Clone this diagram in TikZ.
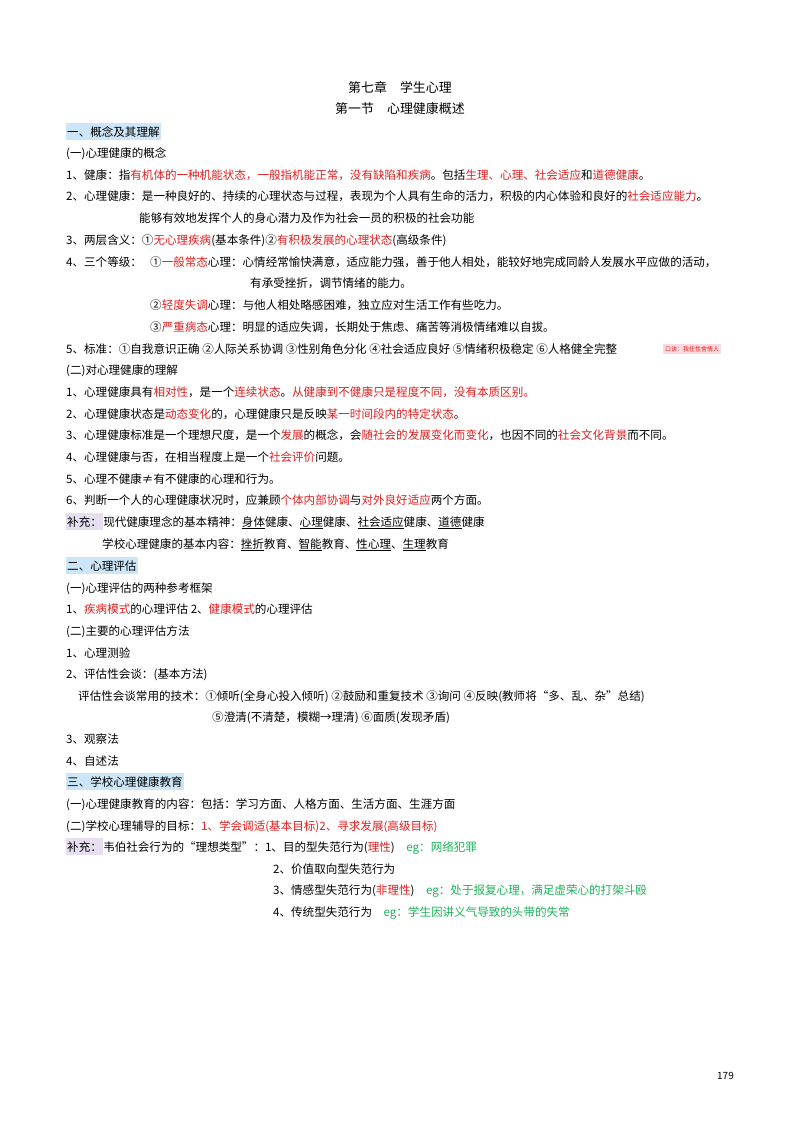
\documentclass[tikz,border=0pt]{standalone}
\usepackage{fontspec}
\setmainfont{Noto Sans CJK SC}
\definecolor{hired}{HTML}{E0201F}
\definecolor{higreen}{HTML}{1DB35A}
\definecolor{headblue}{HTML}{CDE6F7}
\definecolor{addpurple}{HTML}{E8DEF2}
\definecolor{tippink}{HTML}{FBD9DE}
\newcommand{\rd}[1]{\textcolor{hired}{#1}}
\newcommand{\gr}[1]{\textcolor{higreen}{#1}}
\newcommand{\ul}[1]{\underline{#1}}
\tikzset{
  txt/.style={anchor=base west,inner sep=0pt,font=\fontsize{11.6}{14}\selectfont},
  head/.style={txt,fill=headblue,inner xsep=1pt,inner ysep=3pt},
  addbox/.style={txt,fill=addpurple,inner xsep=1pt,inner ysep=3pt},
  title/.style={anchor=base,inner sep=0pt,font=\fontsize{13}{15}\selectfont}
}
\begin{document}
\begin{tikzpicture}[x=1bp,y=-1bp]
\useasboundingbox[fill=white](0,0) rectangle (800,1130);
\node[title] (t1) at (400,92) {第七章\quad 学生心理};
\node[title] (t2) at (400,113) {第一节\quad 心理健康概述};
\node[head] (h1) at (66,136) {一、概念及其理解};
\node[txt] (a0) at (66,157) {(一)心理健康的概念};
\node[txt] (a1) at (66,179) {1、健康：指\rd{有机体的一种机能状态，一般指机能正常，没有缺陷和疾病}。包括\rd{生理、心理、社会适应}和\rd{道德健康}。};
\node[txt] (a2) at (66,200) {2、心理健康：是一种良好的、持续的心理状态与过程，表现为个人具有生命的活力，积极的内心体验和良好的\rd{社会适应能力}。};
\node[txt] (a2b) at (139,222) {能够有效地发挥个人的身心潜力及作为社会一员的积极的社会功能};
\node[txt] (a3) at (66,244) {3、两层含义：①\rd{无心理疾病}(基本条件)②\rd{有积极发展的心理状态}(高级条件)};
\node[txt] (a4) at (66,266) {4、三个等级：};
\node[txt] (a4a) at (150,266) {①\rd{一般常态}心理：心情经常愉快满意，适应能力强，善于他人相处，能较好地完成同龄人发展水平应做的活动，};
\node[txt] (a4b) at (250,287) {有承受挫折，调节情绪的能力。};
\node[txt] (a4c) at (150,309) {②\rd{轻度失调}心理：与他人相处略感困难，独立应对生活工作有些吃力。};
\node[txt] (a4d) at (150,331) {③\rd{严重病态}心理：明显的适应失调，长期处于焦虑、痛苦等消极情绪难以自拔。};
\node[txt] (a5) at (66,353) {5、标准：①自我意识正确\ ②人际关系协调\ ③性别角色分化\ ④社会适应良好\ ⑤情绪积极稳定\ ⑥人格健全完整};
\node[anchor=west,fill=tippink,inner sep=2pt,font=\fontsize{6}{7}\selectfont] (tip) at (663,349) {\rd{口诀：我任性舍情人}};
\node[txt] (b0) at (66,374) {(二)对心理健康的理解};
\node[txt] (b1) at (66,396) {1、心理健康具有\rd{相对性}，是一个\rd{连续状态}。\rd{从健康到不健康只是程度不同，没有本质区别。}};
\node[txt] (b2) at (66,418) {2、心理健康状态是\rd{动态变化}的，心理健康只是反映\rd{某一时间段内的特定状态}。};
\node[txt] (b3) at (66,439) {3、心理健康标准是一个理想尺度，是一个\rd{发展}的概念，会\rd{随社会的发展变化而变化}，也因不同的\rd{社会文化背景}而不同。};
\node[txt] (b4) at (66,461) {4、心理健康与否，在相当程度上是一个\rd{社会评价}问题。};
\node[txt] (b5) at (66,483) {5、心理不健康≠有不健康的心理和行为。};
\node[txt] (b6) at (66,504) {6、判断一个人的心理健康状况时，应兼顾\rd{个体内部协调}与\rd{对外良好适应}两个方面。};
\node[addbox] (s1) at (66,526) {补充：};
\node[txt] (s1t) at (s1.base east) {现代健康理念的基本精神：\ul{身体}健康、\ul{心理}健康、\ul{社会适应}健康、\ul{道德}健康};
\node[txt] (s2) at (102,548) {学校心理健康的基本内容：\ul{挫折}教育、\ul{智能}教育、\ul{性心理}、\ul{生理}教育};
\node[head] (h2) at (66,570) {二、心理评估};
\node[txt] (c0) at (66,592) {(一)心理评估的两种参考框架};
\node[txt] (c1) at (66,613) {1、\rd{疾病模式}的心理评估\ 2、\rd{健康模式}的心理评估};
\node[txt] (d0) at (66,635) {(二)主要的心理评估方法};
\node[txt] (d1) at (66,657) {1、心理测验};
\node[txt] (d2) at (66,678) {2、评估性会谈：(基本方法)};
\node[txt] (d2a) at (78,700) {评估性会谈常用的技术：①倾听(全身心投入倾听)\ ②鼓励和重复技术\ ③询问\ ④反映(教师将“多、乱、杂”总结)};
\node[txt] (d2b) at (212,721) {⑤澄清(不清楚，模糊→理清)\ ⑥面质(发现矛盾)};
\node[txt] (d3) at (66,743) {3、观察法};
\node[txt] (d4) at (66,765) {4、自述法};
\node[head] (h3) at (66,786) {三、学校心理健康教育};
\node[txt] (e1) at (66,808) {(一)心理健康教育的内容：包括：学习方面、人格方面、生活方面、生涯方面};
\node[txt] (e2) at (66,830) {(二)学校心理辅导的目标：\rd{1、学会调适(基本目标)2、寻求发展(高级目标)}};
\node[addbox] (s3) at (66,851) {补充：};
\node[txt] (s3t) at (s3.base east) {韦伯社会行为的“理想类型”：1、目的型失范行为(\rd{理性})\quad \gr{eg：网络犯罪}};
\node[txt] (w2) at (273,873) {2、价值取向型失范行为};
\node[txt] (w3) at (273,894) {3、情感型失范行为(\rd{非理性})\quad \gr{eg：处于报复心理，满足虚荣心的打架斗殴}};
\node[txt] (w4) at (273,916) {4、传统型失范行为\quad \gr{eg：学生因讲义气导致的头带的失常}};
\node[txt,font=\fontsize{10}{12}\selectfont] (pg) at (717,1079) {179};
\end{tikzpicture}
\end{document}
